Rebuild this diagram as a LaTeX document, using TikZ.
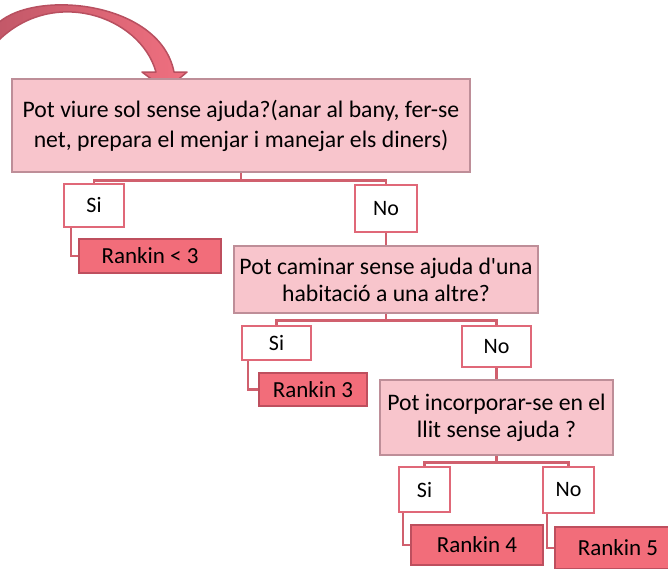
\documentclass[tikz,border=0pt]{standalone}
\usepackage{fontspec}
\setmainfont{Carlito}
\definecolor{qfill}{HTML}{F8C5CC}
\definecolor{qline}{HTML}{BE8E98}
\definecolor{rfill}{HTML}{F26D7A}
\definecolor{rline}{HTML}{BE4F5E}
\definecolor{aline}{HTML}{E06878}
\definecolor{cline}{HTML}{D0606E}
\definecolor{bfill}{HTML}{F07080}
\definecolor{bdark}{HTML}{C25868}
\definecolor{bline}{HTML}{B85060}
\begin{document}
\begin{tikzpicture}[x=1pt, y=-1pt]
\tikzstyle{question}=[shape=rectangle, draw=qline, fill=qfill, line width=2.6pt, inner sep=0pt, align=center, font=\fontsize{23.7}{27}\selectfont]
\tikzstyle{answer}=[shape=rectangle, draw=aline, fill=white, line width=2.4pt, inner sep=0pt, font=\fontsize{22}{26}\selectfont]
\tikzstyle{rankin}=[shape=rectangle, draw=rline, fill=rfill, line width=2.6pt, inner sep=0pt, font=\fontsize{23}{27}\selectfont]
\tikzstyle{link}=[draw=cline, line width=2.4pt]
\useasboundingbox (0,0) rectangle (668,568);
\clip (0,0) rectangle (668,568);
% curved arrow at the top
\shadedraw[left color=bdark, right color=bfill, draw=bline, line width=1.5pt, line join=round] (-5,26) .. controls (30,-12) and (160,0) .. (174,72) -- (187,72) -- (166,90) -- (142,72) -- (156,72) .. controls (140,15) and (50,-15) .. (-5,44) -- cycle;
\node[question, minimum width=458, minimum height=93, font=\fontsize{23.7}{30}\selectfont] (Q1) at (241,125.5) {Pot viure sol sense ajuda?(anar al bany, fer-se\\net, prepara el menjar i manejar els diners)};
\node[answer, minimum width=60, minimum height=43] (SI1) at (94,205.5) {Si};
\node[answer, minimum width=62, minimum height=47] (NO1) at (386,208.5) {No};
\node[rankin, minimum width=142, minimum height=34] (R1) at (150,256) {Rankin < 3};
\node[question, minimum width=304, minimum height=67] (Q2) at (386,279.5) {Pot caminar sense ajuda d\textquotesingle una\\habitació a una altre?};
\node[answer, minimum width=69, minimum height=34] (SI2) at (276.5,343) {Si};
\node[answer, minimum width=69, minimum height=41] (NO2) at (496.5,346.5) {No};
\node[rankin, minimum width=108, minimum height=33] (R3) at (313,389.5) {Rankin 3};
\node[question, minimum width=233, minimum height=75] (Q3) at (496.5,417.5) {Pot incorporar-se en el\\llit sense ajuda ?};
\node[answer, minimum width=51, minimum height=45] (SI3) at (424.5,489.5) {Si};
\node[answer, minimum width=51, minimum height=46] (NO3) at (568.5,490) {No};
\node[rankin, minimum width=132, minimum height=40] (R4) at (477,545) {Rankin 4};
\node[rankin, minimum width=126, minimum height=42] (R5) at (618,548) {Rankin 5};
\draw[link] (Q1.south) -- ++(0,7) coordinate (B1);
\draw[link] (SI1.north) |- (B1) -| (NO1.north);
\draw[link] ([xshift=8pt]SI1.south west) |- (R1.west);
\draw[link] (NO1) -- (Q2);
\draw[link] (Q2.south) -- ++(0,6) coordinate (B2);
\draw[link] (SI2.north) |- (B2) -| (NO2.north);
\draw[link] ([xshift=7pt]SI2.south west) |- (R3.west);
\draw[link] (NO2) -- (Q3);
\draw[link] (Q3.south) -- ++(0,6) coordinate (B3);
\draw[link] (SI3.north) |- (B3) -| (NO3.north);
\draw[link] ([xshift=5pt]SI3.south west) |- (R4.west);
\draw[link] ([xshift=5pt]NO3.south west) |- (R5.west);
\end{tikzpicture}
\end{document}
